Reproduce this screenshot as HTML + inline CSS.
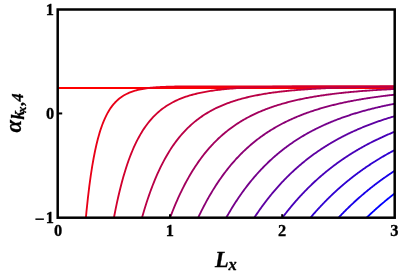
<!DOCTYPE html>
<html><head><meta charset="utf-8"><title>plot</title>
<style>
html,body{margin:0;padding:0;background:#fff;}
body{width:399px;height:274px;overflow:hidden;position:relative;font-family:"Liberation Serif",serif;}
svg{position:absolute;left:0;top:0;}
.t{font-family:"Liberation Serif",serif;font-weight:bold;font-size:16.4px;fill:#000;stroke:#000;stroke-width:0.3px;}
.l{font-family:"Liberation Serif",serif;font-weight:bold;font-style:italic;fill:#000;}
</style></head><body>
<svg width="399" height="274" viewBox="0 0 399 274">
<defs><clipPath id="c"><rect x="57.7" y="9.5" width="337.0" height="208.2"/></clipPath></defs>
<g clip-path="url(#c)" fill="none" stroke-width="1.85" stroke-linejoin="round">
<path d="M57.70 88.0H394.70" stroke="rgb(255,0,0)"/>
<path d="M83.61 244.53 L85.04 226.96 L86.46 211.56 L87.89 198.05 L89.32 186.16 L90.75 175.68 L92.18 166.42 L93.61 158.23 L95.04 150.97 L96.47 144.51 L97.90 138.77 L99.33 133.65 L100.76 129.08 L102.19 124.99 L103.62 121.32 L105.05 118.03 L106.48 115.08 L107.91 112.41 L109.34 110.02 L110.76 107.85 L112.19 105.90 L113.62 104.13 L115.05 102.52 L116.48 101.07 L117.91 99.75 L119.34 98.55 L120.77 97.46 L122.20 96.47 L123.63 95.57 L125.06 94.74 L126.49 93.99 L127.92 93.31 L129.35 92.68 L130.78 92.11 L132.21 91.59 L133.63 91.11 L135.06 90.67 L136.49 90.27 L137.92 89.91 L139.35 89.58 L140.78 89.27 L142.21 88.99 L143.64 88.74 L145.07 88.51 L146.50 88.30 L147.93 88.10 L149.36 87.93 L150.79 87.77 L152.22 87.62 L153.65 87.49 L155.08 87.37 L156.51 87.26 L157.93 87.17 L159.36 87.08 L160.79 87.00 L162.22 86.93 L163.65 86.86 L165.08 86.80 L166.51 86.75 L167.94 86.70 L169.37 86.66 L170.80 86.62 L172.23 86.59 L173.66 86.56 L175.09 86.54 L176.52 86.51 L177.95 86.49 L179.38 86.48 L180.81 86.46 L182.23 86.45 L183.66 86.44 L185.09 86.43 L186.52 86.42 L187.95 86.41 L189.38 86.40 L190.81 86.40 L192.24 86.39 L193.67 86.39 L195.10 86.38 L196.53 86.38 L197.96 86.38 L199.39 86.38 L200.82 86.38 L202.25 86.37 L203.68 86.37 L205.10 86.37 L206.53 86.37 L207.96 86.37 L209.39 86.37 L210.82 86.37 L212.25 86.37 L213.68 86.37 L215.11 86.37 L216.54 86.37 L217.97 86.37 L219.40 86.37 L220.83 86.37 L222.26 86.37 L223.69 86.37 L225.12 86.37 L226.55 86.37 L227.98 86.37 L229.40 86.37 L230.83 86.37 L232.26 86.37 L233.69 86.37 L235.12 86.37 L236.55 86.37 L237.98 86.37 L239.41 86.37 L240.84 86.37 L242.27 86.37 L243.70 86.37 L245.13 86.37 L246.56 86.37 L247.99 86.37 L249.42 86.37 L250.85 86.37 L252.27 86.37 L253.70 86.37 L255.13 86.37 L256.56 86.37 L257.99 86.37 L259.42 86.37 L260.85 86.37 L262.28 86.37 L263.71 86.37 L265.14 86.37 L266.57 86.37 L268.00 86.37 L269.43 86.37 L270.86 86.37 L272.29 86.37 L273.72 86.37 L275.15 86.37 L276.57 86.37 L278.00 86.37 L279.43 86.37 L280.86 86.37 L282.29 86.37 L283.72 86.37 L285.15 86.37 L286.58 86.37 L288.01 86.37 L289.44 86.37 L290.87 86.37 L292.30 86.37 L293.73 86.37 L295.16 86.37 L296.59 86.37 L298.02 86.37 L299.44 86.37 L300.87 86.37 L302.30 86.37 L303.73 86.37 L305.16 86.37 L306.59 86.37 L308.02 86.37 L309.45 86.37 L310.88 86.37 L312.31 86.37 L313.74 86.37 L315.17 86.37 L316.60 86.37 L318.03 86.37 L319.46 86.37 L320.89 86.37 L322.32 86.37 L323.74 86.37 L325.17 86.37 L326.60 86.37 L328.03 86.37 L329.46 86.37 L330.89 86.37 L332.32 86.37 L333.75 86.37 L335.18 86.37 L336.61 86.37 L338.04 86.37 L339.47 86.37 L340.90 86.37 L342.33 86.37 L343.76 86.37 L345.19 86.37 L346.62 86.37 L348.04 86.37 L349.47 86.37 L350.90 86.37 L352.33 86.37 L353.76 86.37 L355.19 86.37 L356.62 86.37 L358.05 86.37 L359.48 86.37 L360.91 86.37 L362.34 86.37 L363.77 86.37 L365.20 86.37 L366.63 86.37 L368.06 86.37 L369.49 86.37 L370.91 86.37 L372.34 86.37 L373.77 86.37 L375.20 86.37 L376.63 86.37 L378.06 86.37 L379.49 86.37 L380.92 86.37 L382.35 86.37 L383.78 86.37 L385.21 86.37 L386.64 86.37 L388.07 86.37 L389.50 86.37 L390.93 86.37 L392.36 86.37 L393.79 86.37 L395.21 86.37 L396.64 86.37" stroke="rgb(232,0,23)"/>
<path d="M111.66 230.54 L112.96 223.07 L114.26 216.04 L115.56 209.41 L116.86 203.17 L118.16 197.28 L119.46 191.72 L120.77 186.48 L122.07 181.53 L123.37 176.85 L124.67 172.43 L125.97 168.25 L127.27 164.30 L128.57 160.56 L129.87 157.03 L131.18 153.68 L132.48 150.50 L133.78 147.49 L135.08 144.64 L136.38 141.94 L137.68 139.37 L138.98 136.94 L140.28 134.63 L141.59 132.44 L142.89 130.35 L144.19 128.37 L145.49 126.49 L146.79 124.70 L148.09 122.99 L149.39 121.37 L150.70 119.83 L152.00 118.36 L153.30 116.96 L154.60 115.62 L155.90 114.35 L157.20 113.14 L158.50 111.98 L159.80 110.88 L161.11 109.83 L162.41 108.83 L163.71 107.87 L165.01 106.95 L166.31 106.08 L167.61 105.24 L168.91 104.44 L170.22 103.68 L171.52 102.95 L172.82 102.25 L174.12 101.59 L175.42 100.95 L176.72 100.34 L178.02 99.75 L179.32 99.19 L180.63 98.66 L181.93 98.14 L183.23 97.65 L184.53 97.18 L185.83 96.73 L187.13 96.30 L188.43 95.88 L189.73 95.48 L191.04 95.10 L192.34 94.74 L193.64 94.39 L194.94 94.05 L196.24 93.73 L197.54 93.42 L198.84 93.12 L200.15 92.84 L201.45 92.57 L202.75 92.30 L204.05 92.05 L205.35 91.81 L206.65 91.58 L207.95 91.36 L209.25 91.14 L210.56 90.94 L211.86 90.74 L213.16 90.55 L214.46 90.37 L215.76 90.20 L217.06 90.03 L218.36 89.87 L219.67 89.72 L220.97 89.57 L222.27 89.43 L223.57 89.29 L224.87 89.16 L226.17 89.04 L227.47 88.92 L228.77 88.80 L230.08 88.69 L231.38 88.58 L232.68 88.48 L233.98 88.38 L235.28 88.29 L236.58 88.20 L237.88 88.12 L239.18 88.03 L240.49 87.95 L241.79 87.88 L243.09 87.81 L244.39 87.74 L245.69 87.67 L246.99 87.61 L248.29 87.55 L249.60 87.49 L250.90 87.43 L252.20 87.38 L253.50 87.33 L254.80 87.28 L256.10 87.23 L257.40 87.19 L258.70 87.15 L260.01 87.10 L261.31 87.07 L262.61 87.03 L263.91 86.99 L265.21 86.96 L266.51 86.93 L267.81 86.90 L269.12 86.87 L270.42 86.84 L271.72 86.81 L273.02 86.79 L274.32 86.77 L275.62 86.74 L276.92 86.72 L278.22 86.70 L279.53 86.68 L280.83 86.66 L282.13 86.65 L283.43 86.63 L284.73 86.61 L286.03 86.60 L287.33 86.58 L288.63 86.57 L289.94 86.56 L291.24 86.55 L292.54 86.54 L293.84 86.52 L295.14 86.51 L296.44 86.51 L297.74 86.50 L299.05 86.49 L300.35 86.48 L301.65 86.47 L302.95 86.47 L304.25 86.46 L305.55 86.45 L306.85 86.45 L308.15 86.44 L309.46 86.44 L310.76 86.43 L312.06 86.43 L313.36 86.42 L314.66 86.42 L315.96 86.41 L317.26 86.41 L318.57 86.41 L319.87 86.40 L321.17 86.40 L322.47 86.40 L323.77 86.40 L325.07 86.39 L326.37 86.39 L327.67 86.39 L328.98 86.39 L330.28 86.39 L331.58 86.39 L332.88 86.38 L334.18 86.38 L335.48 86.38 L336.78 86.38 L338.08 86.38 L339.39 86.38 L340.69 86.38 L341.99 86.38 L343.29 86.38 L344.59 86.38 L345.89 86.37 L347.19 86.37 L348.50 86.37 L349.80 86.37 L351.10 86.37 L352.40 86.37 L353.70 86.37 L355.00 86.37 L356.30 86.37 L357.60 86.37 L358.91 86.37 L360.21 86.37 L361.51 86.37 L362.81 86.37 L364.11 86.37 L365.41 86.37 L366.71 86.37 L368.02 86.37 L369.32 86.37 L370.62 86.37 L371.92 86.37 L373.22 86.37 L374.52 86.37 L375.82 86.37 L377.12 86.37 L378.43 86.37 L379.73 86.37 L381.03 86.37 L382.33 86.37 L383.63 86.37 L384.93 86.37 L386.23 86.37 L387.53 86.37 L388.84 86.37 L390.14 86.37 L391.44 86.37 L392.74 86.37 L394.04 86.37 L395.34 86.37 L396.64 86.37" stroke="rgb(209,0,46)"/>
<path d="M139.71 226.19 L140.88 221.80 L142.05 217.57 L143.23 213.49 L144.40 209.55 L145.57 205.75 L146.75 202.07 L147.92 198.53 L149.09 195.11 L150.27 191.81 L151.44 188.62 L152.61 185.53 L153.78 182.56 L154.96 179.68 L156.13 176.90 L157.30 174.21 L158.48 171.61 L159.65 169.10 L160.82 166.67 L162.00 164.32 L163.17 162.05 L164.34 159.85 L165.52 157.73 L166.69 155.67 L167.86 153.68 L169.04 151.75 L170.21 149.88 L171.38 148.07 L172.56 146.32 L173.73 144.63 L174.90 142.99 L176.08 141.40 L177.25 139.86 L178.42 138.36 L179.60 136.92 L180.77 135.51 L181.94 134.15 L183.12 132.84 L184.29 131.56 L185.46 130.32 L186.64 129.12 L187.81 127.95 L188.98 126.82 L190.16 125.72 L191.33 124.66 L192.50 123.63 L193.67 122.62 L194.85 121.65 L196.02 120.70 L197.19 119.79 L198.37 118.90 L199.54 118.03 L200.71 117.19 L201.89 116.37 L203.06 115.58 L204.23 114.81 L205.41 114.06 L206.58 113.34 L207.75 112.63 L208.93 111.94 L210.10 111.27 L211.27 110.63 L212.45 109.99 L213.62 109.38 L214.79 108.78 L215.97 108.20 L217.14 107.64 L218.31 107.09 L219.49 106.56 L220.66 106.04 L221.83 105.53 L223.01 105.04 L224.18 104.56 L225.35 104.10 L226.53 103.64 L227.70 103.20 L228.87 102.77 L230.04 102.35 L231.22 101.95 L232.39 101.55 L233.56 101.16 L234.74 100.79 L235.91 100.42 L237.08 100.06 L238.26 99.72 L239.43 99.38 L240.60 99.05 L241.78 98.73 L242.95 98.41 L244.12 98.11 L245.30 97.81 L246.47 97.52 L247.64 97.24 L248.82 96.96 L249.99 96.70 L251.16 96.43 L252.34 96.18 L253.51 95.93 L254.68 95.69 L255.86 95.45 L257.03 95.22 L258.20 95.00 L259.38 94.78 L260.55 94.57 L261.72 94.36 L262.90 94.16 L264.07 93.96 L265.24 93.76 L266.42 93.58 L267.59 93.39 L268.76 93.21 L269.93 93.04 L271.11 92.87 L272.28 92.70 L273.45 92.54 L274.63 92.38 L275.80 92.23 L276.97 92.08 L278.15 91.93 L279.32 91.79 L280.49 91.65 L281.67 91.51 L282.84 91.38 L284.01 91.25 L285.19 91.12 L286.36 91.00 L287.53 90.88 L288.71 90.76 L289.88 90.64 L291.05 90.53 L292.23 90.42 L293.40 90.32 L294.57 90.21 L295.75 90.11 L296.92 90.01 L298.09 89.92 L299.27 89.82 L300.44 89.73 L301.61 89.64 L302.79 89.55 L303.96 89.47 L305.13 89.38 L306.31 89.30 L307.48 89.22 L308.65 89.14 L309.82 89.07 L311.00 89.00 L312.17 88.92 L313.34 88.85 L314.52 88.79 L315.69 88.72 L316.86 88.65 L318.04 88.59 L319.21 88.53 L320.38 88.47 L321.56 88.41 L322.73 88.35 L323.90 88.30 L325.08 88.24 L326.25 88.19 L327.42 88.14 L328.60 88.09 L329.77 88.04 L330.94 87.99 L332.12 87.94 L333.29 87.90 L334.46 87.85 L335.64 87.81 L336.81 87.77 L337.98 87.73 L339.16 87.69 L340.33 87.65 L341.50 87.61 L342.68 87.57 L343.85 87.54 L345.02 87.50 L346.19 87.47 L347.37 87.43 L348.54 87.40 L349.71 87.37 L350.89 87.34 L352.06 87.31 L353.23 87.28 L354.41 87.25 L355.58 87.22 L356.75 87.20 L357.93 87.17 L359.10 87.15 L360.27 87.12 L361.45 87.10 L362.62 87.07 L363.79 87.05 L364.97 87.03 L366.14 87.01 L367.31 86.99 L368.49 86.97 L369.66 86.95 L370.83 86.93 L372.01 86.91 L373.18 86.89 L374.35 86.88 L375.53 86.86 L376.70 86.84 L377.87 86.83 L379.05 86.81 L380.22 86.79 L381.39 86.78 L382.57 86.77 L383.74 86.75 L384.91 86.74 L386.08 86.73 L387.26 86.71 L388.43 86.70 L389.60 86.69 L390.78 86.68 L391.95 86.67 L393.12 86.66 L394.30 86.65 L395.47 86.64 L396.64 86.63" stroke="rgb(185,0,70)"/>
<path d="M167.76 224.07 L168.80 221.18 L169.85 218.35 L170.89 215.58 L171.94 212.89 L172.98 210.25 L174.03 207.68 L175.07 205.17 L176.12 202.71 L177.16 200.32 L178.21 197.98 L179.25 195.69 L180.30 193.46 L181.34 191.28 L182.39 189.14 L183.43 187.06 L184.48 185.03 L185.52 183.04 L186.57 181.09 L187.61 179.19 L188.66 177.34 L189.70 175.52 L190.75 173.74 L191.79 172.01 L192.84 170.31 L193.88 168.65 L194.93 167.03 L195.98 165.45 L197.02 163.89 L198.07 162.38 L199.11 160.89 L200.16 159.44 L201.20 158.02 L202.25 156.63 L203.29 155.27 L204.34 153.95 L205.38 152.64 L206.43 151.37 L207.47 150.13 L208.52 148.91 L209.56 147.71 L210.61 146.55 L211.65 145.40 L212.70 144.28 L213.74 143.19 L214.79 142.12 L215.83 141.07 L216.88 140.04 L217.92 139.03 L218.97 138.05 L220.01 137.08 L221.06 136.14 L222.10 135.21 L223.15 134.30 L224.19 133.42 L225.24 132.55 L226.28 131.69 L227.33 130.86 L228.37 130.04 L229.42 129.24 L230.47 128.45 L231.51 127.68 L232.56 126.93 L233.60 126.19 L234.65 125.47 L235.69 124.76 L236.74 124.06 L237.78 123.38 L238.83 122.71 L239.87 122.06 L240.92 121.41 L241.96 120.78 L243.01 120.17 L244.05 119.56 L245.10 118.97 L246.14 118.38 L247.19 117.81 L248.23 117.25 L249.28 116.71 L250.32 116.17 L251.37 115.64 L252.41 115.12 L253.46 114.61 L254.50 114.11 L255.55 113.62 L256.59 113.14 L257.64 112.67 L258.68 112.21 L259.73 111.76 L260.77 111.31 L261.82 110.88 L262.86 110.45 L263.91 110.03 L264.96 109.62 L266.00 109.21 L267.05 108.81 L268.09 108.42 L269.14 108.04 L270.18 107.67 L271.23 107.30 L272.27 106.93 L273.32 106.58 L274.36 106.23 L275.41 105.89 L276.45 105.55 L277.50 105.22 L278.54 104.90 L279.59 104.58 L280.63 104.26 L281.68 103.96 L282.72 103.65 L283.77 103.36 L284.81 103.07 L285.86 102.78 L286.90 102.50 L287.95 102.22 L288.99 101.95 L290.04 101.69 L291.08 101.43 L292.13 101.17 L293.17 100.92 L294.22 100.67 L295.26 100.42 L296.31 100.18 L297.35 99.95 L298.40 99.72 L299.44 99.49 L300.49 99.27 L301.54 99.05 L302.58 98.83 L303.63 98.62 L304.67 98.41 L305.72 98.21 L306.76 98.01 L307.81 97.81 L308.85 97.62 L309.90 97.42 L310.94 97.24 L311.99 97.05 L313.03 96.87 L314.08 96.69 L315.12 96.52 L316.17 96.34 L317.21 96.18 L318.26 96.01 L319.30 95.84 L320.35 95.68 L321.39 95.53 L322.44 95.37 L323.48 95.22 L324.53 95.07 L325.57 94.92 L326.62 94.77 L327.66 94.63 L328.71 94.49 L329.75 94.35 L330.80 94.21 L331.84 94.08 L332.89 93.95 L333.93 93.82 L334.98 93.69 L336.03 93.57 L337.07 93.44 L338.12 93.32 L339.16 93.20 L340.21 93.09 L341.25 92.97 L342.30 92.86 L343.34 92.75 L344.39 92.64 L345.43 92.53 L346.48 92.42 L347.52 92.32 L348.57 92.22 L349.61 92.12 L350.66 92.02 L351.70 91.92 L352.75 91.82 L353.79 91.73 L354.84 91.64 L355.88 91.55 L356.93 91.46 L357.97 91.37 L359.02 91.28 L360.06 91.20 L361.11 91.11 L362.15 91.03 L363.20 90.95 L364.24 90.87 L365.29 90.79 L366.33 90.71 L367.38 90.63 L368.42 90.56 L369.47 90.49 L370.52 90.41 L371.56 90.34 L372.61 90.27 L373.65 90.20 L374.70 90.13 L375.74 90.07 L376.79 90.00 L377.83 89.94 L378.88 89.87 L379.92 89.81 L380.97 89.75 L382.01 89.69 L383.06 89.63 L384.10 89.57 L385.15 89.51 L386.19 89.46 L387.24 89.40 L388.28 89.35 L389.33 89.29 L390.37 89.24 L391.42 89.19 L392.46 89.14 L393.51 89.08 L394.55 89.04 L395.60 88.99 L396.64 88.94" stroke="rgb(162,0,93)"/>
<path d="M195.81 222.82 L196.72 220.80 L197.64 218.81 L198.56 216.86 L199.47 214.94 L200.39 213.05 L201.31 211.19 L202.23 209.36 L203.14 207.56 L204.06 205.80 L204.98 204.06 L205.89 202.35 L206.81 200.67 L207.73 199.01 L208.64 197.39 L209.56 195.79 L210.48 194.21 L211.40 192.66 L212.31 191.14 L213.23 189.64 L214.15 188.16 L215.06 186.71 L215.98 185.28 L216.90 183.88 L217.82 182.49 L218.73 181.13 L219.65 179.80 L220.57 178.48 L221.48 177.18 L222.40 175.90 L223.32 174.65 L224.24 173.41 L225.15 172.19 L226.07 171.00 L226.99 169.82 L227.90 168.66 L228.82 167.52 L229.74 166.39 L230.65 165.28 L231.57 164.19 L232.49 163.12 L233.41 162.06 L234.32 161.02 L235.24 160.00 L236.16 158.99 L237.07 158.00 L237.99 157.02 L238.91 156.06 L239.83 155.11 L240.74 154.18 L241.66 153.26 L242.58 152.35 L243.49 151.46 L244.41 150.58 L245.33 149.71 L246.24 148.86 L247.16 148.02 L248.08 147.20 L249.00 146.38 L249.91 145.58 L250.83 144.79 L251.75 144.01 L252.66 143.24 L253.58 142.49 L254.50 141.74 L255.42 141.01 L256.33 140.28 L257.25 139.57 L258.17 138.87 L259.08 138.18 L260.00 137.50 L260.92 136.83 L261.83 136.16 L262.75 135.51 L263.67 134.87 L264.59 134.23 L265.50 133.61 L266.42 133.00 L267.34 132.39 L268.25 131.79 L269.17 131.20 L270.09 130.62 L271.01 130.05 L271.92 129.48 L272.84 128.93 L273.76 128.38 L274.67 127.84 L275.59 127.31 L276.51 126.78 L277.43 126.26 L278.34 125.75 L279.26 125.25 L280.18 124.75 L281.09 124.26 L282.01 123.78 L282.93 123.30 L283.84 122.83 L284.76 122.37 L285.68 121.91 L286.60 121.46 L287.51 121.02 L288.43 120.58 L289.35 120.15 L290.26 119.72 L291.18 119.30 L292.10 118.89 L293.02 118.48 L293.93 118.08 L294.85 117.68 L295.77 117.29 L296.68 116.90 L297.60 116.52 L298.52 116.14 L299.43 115.77 L300.35 115.40 L301.27 115.04 L302.19 114.68 L303.10 114.33 L304.02 113.98 L304.94 113.64 L305.85 113.30 L306.77 112.97 L307.69 112.64 L308.61 112.32 L309.52 112.00 L310.44 111.68 L311.36 111.37 L312.27 111.06 L313.19 110.76 L314.11 110.46 L315.02 110.16 L315.94 109.87 L316.86 109.58 L317.78 109.30 L318.69 109.01 L319.61 108.74 L320.53 108.46 L321.44 108.19 L322.36 107.93 L323.28 107.66 L324.20 107.40 L325.11 107.15 L326.03 106.90 L326.95 106.65 L327.86 106.40 L328.78 106.16 L329.70 105.92 L330.62 105.68 L331.53 105.44 L332.45 105.21 L333.37 104.98 L334.28 104.76 L335.20 104.54 L336.12 104.32 L337.03 104.10 L337.95 103.89 L338.87 103.67 L339.79 103.46 L340.70 103.26 L341.62 103.06 L342.54 102.85 L343.45 102.66 L344.37 102.46 L345.29 102.27 L346.21 102.07 L347.12 101.89 L348.04 101.70 L348.96 101.51 L349.87 101.33 L350.79 101.15 L351.71 100.98 L352.62 100.80 L353.54 100.63 L354.46 100.46 L355.38 100.29 L356.29 100.12 L357.21 99.96 L358.13 99.79 L359.04 99.63 L359.96 99.47 L360.88 99.32 L361.80 99.16 L362.71 99.01 L363.63 98.86 L364.55 98.71 L365.46 98.56 L366.38 98.41 L367.30 98.27 L368.21 98.13 L369.13 97.99 L370.05 97.85 L370.97 97.71 L371.88 97.58 L372.80 97.44 L373.72 97.31 L374.63 97.18 L375.55 97.05 L376.47 96.92 L377.39 96.80 L378.30 96.67 L379.22 96.55 L380.14 96.43 L381.05 96.31 L381.97 96.19 L382.89 96.07 L383.81 95.95 L384.72 95.84 L385.64 95.73 L386.56 95.61 L387.47 95.50 L388.39 95.39 L389.31 95.29 L390.22 95.18 L391.14 95.07 L392.06 94.97 L392.98 94.87 L393.89 94.77 L394.81 94.66 L395.73 94.57 L396.64 94.47" stroke="rgb(139,0,116)"/>
<path d="M223.86 221.99 L224.64 220.55 L225.43 219.12 L226.22 217.72 L227.01 216.33 L227.80 214.95 L228.59 213.59 L229.38 212.25 L230.17 210.93 L230.96 209.62 L231.75 208.32 L232.53 207.04 L233.32 205.78 L234.11 204.53 L234.90 203.29 L235.69 202.07 L236.48 200.87 L237.27 199.68 L238.06 198.50 L238.85 197.34 L239.64 196.19 L240.42 195.05 L241.21 193.93 L242.00 192.82 L242.79 191.72 L243.58 190.64 L244.37 189.57 L245.16 188.51 L245.95 187.46 L246.74 186.42 L247.53 185.40 L248.31 184.39 L249.10 183.39 L249.89 182.40 L250.68 181.43 L251.47 180.46 L252.26 179.51 L253.05 178.56 L253.84 177.63 L254.63 176.71 L255.42 175.80 L256.20 174.89 L256.99 174.00 L257.78 173.12 L258.57 172.25 L259.36 171.39 L260.15 170.54 L260.94 169.70 L261.73 168.86 L262.52 168.04 L263.31 167.23 L264.09 166.42 L264.88 165.63 L265.67 164.84 L266.46 164.06 L267.25 163.29 L268.04 162.53 L268.83 161.78 L269.62 161.03 L270.41 160.30 L271.20 159.57 L271.98 158.85 L272.77 158.14 L273.56 157.43 L274.35 156.74 L275.14 156.05 L275.93 155.37 L276.72 154.69 L277.51 154.03 L278.30 153.37 L279.09 152.72 L279.87 152.07 L280.66 151.43 L281.45 150.80 L282.24 150.18 L283.03 149.56 L283.82 148.95 L284.61 148.35 L285.40 147.75 L286.19 147.16 L286.97 146.57 L287.76 145.99 L288.55 145.42 L289.34 144.85 L290.13 144.29 L290.92 143.74 L291.71 143.19 L292.50 142.65 L293.29 142.11 L294.08 141.58 L294.86 141.06 L295.65 140.54 L296.44 140.02 L297.23 139.51 L298.02 139.01 L298.81 138.51 L299.60 138.02 L300.39 137.53 L301.18 137.05 L301.97 136.57 L302.75 136.10 L303.54 135.63 L304.33 135.17 L305.12 134.71 L305.91 134.25 L306.70 133.80 L307.49 133.36 L308.28 132.92 L309.07 132.49 L309.86 132.06 L310.64 131.63 L311.43 131.21 L312.22 130.79 L313.01 130.38 L313.80 129.97 L314.59 129.56 L315.38 129.16 L316.17 128.77 L316.96 128.37 L317.75 127.99 L318.53 127.60 L319.32 127.22 L320.11 126.84 L320.90 126.47 L321.69 126.10 L322.48 125.74 L323.27 125.38 L324.06 125.02 L324.85 124.66 L325.64 124.31 L326.42 123.96 L327.21 123.62 L328.00 123.28 L328.79 122.94 L329.58 122.61 L330.37 122.28 L331.16 121.95 L331.95 121.63 L332.74 121.31 L333.53 120.99 L334.31 120.68 L335.10 120.36 L335.89 120.06 L336.68 119.75 L337.47 119.45 L338.26 119.15 L339.05 118.85 L339.84 118.56 L340.63 118.27 L341.41 117.98 L342.20 117.70 L342.99 117.42 L343.78 117.14 L344.57 116.86 L345.36 116.59 L346.15 116.32 L346.94 116.05 L347.73 115.78 L348.52 115.52 L349.30 115.26 L350.09 115.00 L350.88 114.74 L351.67 114.49 L352.46 114.24 L353.25 113.99 L354.04 113.74 L354.83 113.50 L355.62 113.26 L356.41 113.02 L357.19 112.78 L357.98 112.55 L358.77 112.32 L359.56 112.09 L360.35 111.86 L361.14 111.63 L361.93 111.41 L362.72 111.19 L363.51 110.97 L364.30 110.75 L365.08 110.53 L365.87 110.32 L366.66 110.11 L367.45 109.90 L368.24 109.69 L369.03 109.49 L369.82 109.28 L370.61 109.08 L371.40 108.88 L372.19 108.68 L372.97 108.49 L373.76 108.29 L374.55 108.10 L375.34 107.91 L376.13 107.72 L376.92 107.54 L377.71 107.35 L378.50 107.17 L379.29 106.98 L380.08 106.80 L380.86 106.63 L381.65 106.45 L382.44 106.27 L383.23 106.10 L384.02 105.93 L384.81 105.76 L385.60 105.59 L386.39 105.42 L387.18 105.26 L387.97 105.09 L388.75 104.93 L389.54 104.77 L390.33 104.61 L391.12 104.45 L391.91 104.29 L392.70 104.14 L393.49 103.98 L394.28 103.83 L395.07 103.68 L395.86 103.53 L396.64 103.38" stroke="rgb(116,0,139)"/>
<path d="M251.91 221.40 L252.57 220.37 L253.23 219.35 L253.89 218.33 L254.55 217.33 L255.21 216.33 L255.87 215.34 L256.53 214.36 L257.19 213.39 L257.85 212.43 L258.52 211.47 L259.18 210.53 L259.84 209.59 L260.50 208.66 L261.16 207.73 L261.82 206.82 L262.48 205.91 L263.14 205.01 L263.80 204.12 L264.46 203.24 L265.12 202.36 L265.78 201.49 L266.45 200.63 L267.11 199.77 L267.77 198.93 L268.43 198.09 L269.09 197.25 L269.75 196.43 L270.41 195.61 L271.07 194.79 L271.73 193.99 L272.39 193.19 L273.05 192.40 L273.72 191.61 L274.38 190.83 L275.04 190.06 L275.70 189.30 L276.36 188.54 L277.02 187.78 L277.68 187.04 L278.34 186.30 L279.00 185.56 L279.66 184.83 L280.32 184.11 L280.99 183.39 L281.65 182.68 L282.31 181.98 L282.97 181.28 L283.63 180.59 L284.29 179.90 L284.95 179.22 L285.61 178.54 L286.27 177.87 L286.93 177.20 L287.59 176.54 L288.26 175.89 L288.92 175.24 L289.58 174.60 L290.24 173.96 L290.90 173.33 L291.56 172.70 L292.22 172.07 L292.88 171.46 L293.54 170.84 L294.20 170.24 L294.86 169.63 L295.53 169.03 L296.19 168.44 L296.85 167.85 L297.51 167.27 L298.17 166.69 L298.83 166.11 L299.49 165.55 L300.15 164.98 L300.81 164.42 L301.47 163.86 L302.13 163.31 L302.80 162.76 L303.46 162.22 L304.12 161.68 L304.78 161.15 L305.44 160.62 L306.10 160.09 L306.76 159.57 L307.42 159.05 L308.08 158.54 L308.74 158.03 L309.40 157.52 L310.07 157.02 L310.73 156.52 L311.39 156.03 L312.05 155.54 L312.71 155.05 L313.37 154.57 L314.03 154.09 L314.69 153.62 L315.35 153.15 L316.01 152.68 L316.67 152.22 L317.34 151.76 L318.00 151.30 L318.66 150.85 L319.32 150.40 L319.98 149.96 L320.64 149.51 L321.30 149.07 L321.96 148.64 L322.62 148.21 L323.28 147.78 L323.94 147.35 L324.61 146.93 L325.27 146.51 L325.93 146.10 L326.59 145.68 L327.25 145.27 L327.91 144.87 L328.57 144.47 L329.23 144.07 L329.89 143.67 L330.55 143.28 L331.21 142.88 L331.88 142.50 L332.54 142.11 L333.20 141.73 L333.86 141.35 L334.52 140.97 L335.18 140.60 L335.84 140.23 L336.50 139.86 L337.16 139.50 L337.82 139.14 L338.48 138.78 L339.15 138.42 L339.81 138.07 L340.47 137.72 L341.13 137.37 L341.79 137.02 L342.45 136.68 L343.11 136.34 L343.77 136.00 L344.43 135.66 L345.09 135.33 L345.75 135.00 L346.42 134.67 L347.08 134.35 L347.74 134.02 L348.40 133.70 L349.06 133.38 L349.72 133.07 L350.38 132.75 L351.04 132.44 L351.70 132.13 L352.36 131.82 L353.02 131.52 L353.69 131.22 L354.35 130.92 L355.01 130.62 L355.67 130.32 L356.33 130.03 L356.99 129.74 L357.65 129.45 L358.31 129.16 L358.97 128.88 L359.63 128.59 L360.29 128.31 L360.96 128.03 L361.62 127.76 L362.28 127.48 L362.94 127.21 L363.60 126.94 L364.26 126.67 L364.92 126.40 L365.58 126.14 L366.24 125.88 L366.90 125.61 L367.56 125.36 L368.23 125.10 L368.89 124.84 L369.55 124.59 L370.21 124.34 L370.87 124.09 L371.53 123.84 L372.19 123.59 L372.85 123.35 L373.51 123.11 L374.17 122.86 L374.83 122.63 L375.50 122.39 L376.16 122.15 L376.82 121.92 L377.48 121.68 L378.14 121.45 L378.80 121.22 L379.46 121.00 L380.12 120.77 L380.78 120.55 L381.44 120.32 L382.10 120.10 L382.77 119.88 L383.43 119.66 L384.09 119.45 L384.75 119.23 L385.41 119.02 L386.07 118.81 L386.73 118.60 L387.39 118.39 L388.05 118.18 L388.71 117.97 L389.37 117.77 L390.03 117.57 L390.70 117.36 L391.36 117.16 L392.02 116.96 L392.68 116.77 L393.34 116.57 L394.00 116.38 L394.66 116.18 L395.32 115.99 L395.98 115.80 L396.64 115.61" stroke="rgb(93,0,162)"/>
<path d="M279.96 220.96 L280.49 220.24 L281.02 219.52 L281.55 218.80 L282.09 218.09 L282.62 217.38 L283.15 216.67 L283.69 215.97 L284.22 215.28 L284.75 214.58 L285.28 213.90 L285.82 213.21 L286.35 212.53 L286.88 211.86 L287.42 211.19 L287.95 210.52 L288.48 209.86 L289.01 209.20 L289.55 208.54 L290.08 207.89 L290.61 207.24 L291.15 206.60 L291.68 205.96 L292.21 205.33 L292.74 204.69 L293.28 204.07 L293.81 203.44 L294.34 202.82 L294.88 202.20 L295.41 201.59 L295.94 200.98 L296.47 200.38 L297.01 199.77 L297.54 199.18 L298.07 198.58 L298.60 197.99 L299.14 197.40 L299.67 196.82 L300.20 196.24 L300.74 195.66 L301.27 195.08 L301.80 194.51 L302.33 193.95 L302.87 193.38 L303.40 192.82 L303.93 192.27 L304.47 191.71 L305.00 191.16 L305.53 190.61 L306.06 190.07 L306.60 189.53 L307.13 188.99 L307.66 188.46 L308.20 187.92 L308.73 187.40 L309.26 186.87 L309.79 186.35 L310.33 185.83 L310.86 185.31 L311.39 184.80 L311.93 184.29 L312.46 183.78 L312.99 183.28 L313.52 182.78 L314.06 182.28 L314.59 181.78 L315.12 181.29 L315.66 180.80 L316.19 180.31 L316.72 179.83 L317.25 179.35 L317.79 178.87 L318.32 178.40 L318.85 177.92 L319.38 177.45 L319.92 176.98 L320.45 176.52 L320.98 176.06 L321.52 175.60 L322.05 175.14 L322.58 174.69 L323.11 174.24 L323.65 173.79 L324.18 173.34 L324.71 172.90 L325.25 172.46 L325.78 172.02 L326.31 171.58 L326.84 171.15 L327.38 170.72 L327.91 170.29 L328.44 169.86 L328.98 169.44 L329.51 169.02 L330.04 168.60 L330.57 168.18 L331.11 167.77 L331.64 167.36 L332.17 166.95 L332.71 166.54 L333.24 166.13 L333.77 165.73 L334.30 165.33 L334.84 164.93 L335.37 164.54 L335.90 164.14 L336.44 163.75 L336.97 163.36 L337.50 162.98 L338.03 162.59 L338.57 162.21 L339.10 161.83 L339.63 161.45 L340.16 161.07 L340.70 160.70 L341.23 160.33 L341.76 159.96 L342.30 159.59 L342.83 159.22 L343.36 158.86 L343.89 158.50 L344.43 158.14 L344.96 157.78 L345.49 157.43 L346.03 157.07 L346.56 156.72 L347.09 156.37 L347.62 156.02 L348.16 155.68 L348.69 155.33 L349.22 154.99 L349.76 154.65 L350.29 154.31 L350.82 153.98 L351.35 153.64 L351.89 153.31 L352.42 152.98 L352.95 152.65 L353.49 152.32 L354.02 152.00 L354.55 151.67 L355.08 151.35 L355.62 151.03 L356.15 150.71 L356.68 150.40 L357.22 150.08 L357.75 149.77 L358.28 149.46 L358.81 149.15 L359.35 148.84 L359.88 148.54 L360.41 148.23 L360.94 147.93 L361.48 147.63 L362.01 147.33 L362.54 147.03 L363.08 146.73 L363.61 146.44 L364.14 146.15 L364.67 145.85 L365.21 145.56 L365.74 145.28 L366.27 144.99 L366.81 144.70 L367.34 144.42 L367.87 144.14 L368.40 143.86 L368.94 143.58 L369.47 143.30 L370.00 143.02 L370.54 142.75 L371.07 142.48 L371.60 142.20 L372.13 141.93 L372.67 141.67 L373.20 141.40 L373.73 141.13 L374.27 140.87 L374.80 140.61 L375.33 140.34 L375.86 140.08 L376.40 139.82 L376.93 139.57 L377.46 139.31 L378.00 139.06 L378.53 138.80 L379.06 138.55 L379.59 138.30 L380.13 138.05 L380.66 137.80 L381.19 137.56 L381.72 137.31 L382.26 137.07 L382.79 136.82 L383.32 136.58 L383.86 136.34 L384.39 136.10 L384.92 135.87 L385.45 135.63 L385.99 135.39 L386.52 135.16 L387.05 134.93 L387.59 134.70 L388.12 134.47 L388.65 134.24 L389.18 134.01 L389.72 133.78 L390.25 133.56 L390.78 133.33 L391.32 133.11 L391.85 132.89 L392.38 132.67 L392.91 132.45 L393.45 132.23 L393.98 132.01 L394.51 131.80 L395.05 131.58 L395.58 131.37 L396.11 131.16 L396.64 130.94" stroke="rgb(70,0,185)"/>
<path d="M308.01 220.62 L308.41 220.13 L308.82 219.65 L309.22 219.16 L309.62 218.68 L310.03 218.20 L310.43 217.72 L310.84 217.24 L311.24 216.76 L311.65 216.29 L312.05 215.82 L312.46 215.35 L312.86 214.88 L313.27 214.41 L313.67 213.95 L314.08 213.49 L314.48 213.03 L314.89 212.57 L315.29 212.11 L315.70 211.66 L316.10 211.21 L316.51 210.75 L316.91 210.31 L317.32 209.86 L317.72 209.41 L318.12 208.97 L318.53 208.53 L318.93 208.09 L319.34 207.65 L319.74 207.21 L320.15 206.78 L320.55 206.34 L320.96 205.91 L321.36 205.48 L321.77 205.06 L322.17 204.63 L322.58 204.21 L322.98 203.78 L323.39 203.36 L323.79 202.94 L324.20 202.53 L324.60 202.11 L325.01 201.70 L325.41 201.29 L325.81 200.87 L326.22 200.47 L326.62 200.06 L327.03 199.65 L327.43 199.25 L327.84 198.85 L328.24 198.45 L328.65 198.05 L329.05 197.65 L329.46 197.25 L329.86 196.86 L330.27 196.47 L330.67 196.07 L331.08 195.68 L331.48 195.30 L331.89 194.91 L332.29 194.53 L332.70 194.14 L333.10 193.76 L333.50 193.38 L333.91 193.00 L334.31 192.62 L334.72 192.25 L335.12 191.87 L335.53 191.50 L335.93 191.13 L336.34 190.76 L336.74 190.39 L337.15 190.02 L337.55 189.66 L337.96 189.29 L338.36 188.93 L338.77 188.57 L339.17 188.21 L339.58 187.85 L339.98 187.50 L340.39 187.14 L340.79 186.79 L341.19 186.43 L341.60 186.08 L342.00 185.73 L342.41 185.38 L342.81 185.04 L343.22 184.69 L343.62 184.35 L344.03 184.00 L344.43 183.66 L344.84 183.32 L345.24 182.98 L345.65 182.65 L346.05 182.31 L346.46 181.97 L346.86 181.64 L347.27 181.31 L347.67 180.98 L348.08 180.65 L348.48 180.32 L348.88 179.99 L349.29 179.67 L349.69 179.34 L350.10 179.02 L350.50 178.70 L350.91 178.38 L351.31 178.06 L351.72 177.74 L352.12 177.42 L352.53 177.11 L352.93 176.79 L353.34 176.48 L353.74 176.17 L354.15 175.85 L354.55 175.55 L354.96 175.24 L355.36 174.93 L355.77 174.62 L356.17 174.32 L356.57 174.01 L356.98 173.71 L357.38 173.41 L357.79 173.11 L358.19 172.81 L358.60 172.51 L359.00 172.22 L359.41 171.92 L359.81 171.63 L360.22 171.33 L360.62 171.04 L361.03 170.75 L361.43 170.46 L361.84 170.17 L362.24 169.88 L362.65 169.60 L363.05 169.31 L363.46 169.03 L363.86 168.75 L364.26 168.46 L364.67 168.18 L365.07 167.90 L365.48 167.62 L365.88 167.35 L366.29 167.07 L366.69 166.79 L367.10 166.52 L367.50 166.25 L367.91 165.97 L368.31 165.70 L368.72 165.43 L369.12 165.16 L369.53 164.89 L369.93 164.63 L370.34 164.36 L370.74 164.09 L371.15 163.83 L371.55 163.57 L371.95 163.30 L372.36 163.04 L372.76 162.78 L373.17 162.52 L373.57 162.27 L373.98 162.01 L374.38 161.75 L374.79 161.50 L375.19 161.24 L375.60 160.99 L376.00 160.74 L376.41 160.48 L376.81 160.23 L377.22 159.98 L377.62 159.74 L378.03 159.49 L378.43 159.24 L378.84 159.00 L379.24 158.75 L379.64 158.51 L380.05 158.26 L380.45 158.02 L380.86 157.78 L381.26 157.54 L381.67 157.30 L382.07 157.06 L382.48 156.82 L382.88 156.59 L383.29 156.35 L383.69 156.12 L384.10 155.88 L384.50 155.65 L384.91 155.42 L385.31 155.19 L385.72 154.95 L386.12 154.73 L386.53 154.50 L386.93 154.27 L387.33 154.04 L387.74 153.81 L388.14 153.59 L388.55 153.36 L388.95 153.14 L389.36 152.92 L389.76 152.70 L390.17 152.47 L390.57 152.25 L390.98 152.03 L391.38 151.82 L391.79 151.60 L392.19 151.38 L392.60 151.16 L393.00 150.95 L393.41 150.73 L393.81 150.52 L394.22 150.31 L394.62 150.09 L395.03 149.88 L395.43 149.67 L395.83 149.46 L396.24 149.25 L396.64 149.04" stroke="rgb(46,0,209)"/>
<path d="M336.06 220.35 L336.33 220.05 L336.61 219.75 L336.89 219.45 L337.16 219.15 L337.44 218.86 L337.72 218.56 L337.99 218.26 L338.27 217.97 L338.55 217.67 L338.82 217.38 L339.10 217.09 L339.38 216.79 L339.65 216.50 L339.93 216.21 L340.21 215.92 L340.48 215.63 L340.76 215.34 L341.04 215.05 L341.31 214.77 L341.59 214.48 L341.87 214.19 L342.14 213.91 L342.42 213.62 L342.70 213.34 L342.97 213.06 L343.25 212.78 L343.53 212.49 L343.80 212.21 L344.08 211.93 L344.36 211.65 L344.63 211.37 L344.91 211.10 L345.19 210.82 L345.46 210.54 L345.74 210.27 L346.02 209.99 L346.29 209.72 L346.57 209.44 L346.85 209.17 L347.12 208.90 L347.40 208.63 L347.68 208.35 L347.95 208.08 L348.23 207.81 L348.51 207.54 L348.78 207.28 L349.06 207.01 L349.34 206.74 L349.61 206.48 L349.89 206.21 L350.17 205.94 L350.44 205.68 L350.72 205.42 L351.00 205.15 L351.27 204.89 L351.55 204.63 L351.83 204.37 L352.10 204.11 L352.38 203.85 L352.66 203.59 L352.93 203.33 L353.21 203.07 L353.49 202.81 L353.76 202.56 L354.04 202.30 L354.32 202.05 L354.59 201.79 L354.87 201.54 L355.15 201.28 L355.42 201.03 L355.70 200.78 L355.98 200.53 L356.25 200.28 L356.53 200.03 L356.81 199.78 L357.08 199.53 L357.36 199.28 L357.64 199.03 L357.91 198.78 L358.19 198.54 L358.47 198.29 L358.74 198.05 L359.02 197.80 L359.30 197.56 L359.57 197.31 L359.85 197.07 L360.13 196.83 L360.40 196.59 L360.68 196.35 L360.96 196.10 L361.23 195.86 L361.51 195.63 L361.79 195.39 L362.06 195.15 L362.34 194.91 L362.62 194.67 L362.89 194.44 L363.17 194.20 L363.45 193.97 L363.72 193.73 L364.00 193.50 L364.28 193.26 L364.55 193.03 L364.83 192.80 L365.11 192.57 L365.38 192.34 L365.66 192.11 L365.94 191.87 L366.21 191.65 L366.49 191.42 L366.76 191.19 L367.04 190.96 L367.32 190.73 L367.59 190.51 L367.87 190.28 L368.15 190.05 L368.42 189.83 L368.70 189.60 L368.98 189.38 L369.25 189.16 L369.53 188.93 L369.81 188.71 L370.08 188.49 L370.36 188.27 L370.64 188.05 L370.91 187.83 L371.19 187.61 L371.47 187.39 L371.74 187.17 L372.02 186.95 L372.30 186.74 L372.57 186.52 L372.85 186.30 L373.13 186.09 L373.40 185.87 L373.68 185.66 L373.96 185.44 L374.23 185.23 L374.51 185.01 L374.79 184.80 L375.06 184.59 L375.34 184.38 L375.62 184.17 L375.89 183.96 L376.17 183.75 L376.45 183.54 L376.72 183.33 L377.00 183.12 L377.28 182.91 L377.55 182.70 L377.83 182.49 L378.11 182.29 L378.38 182.08 L378.66 181.88 L378.94 181.67 L379.21 181.47 L379.49 181.26 L379.77 181.06 L380.04 180.86 L380.32 180.65 L380.60 180.45 L380.87 180.25 L381.15 180.05 L381.43 179.85 L381.70 179.65 L381.98 179.45 L382.26 179.25 L382.53 179.05 L382.81 178.85 L383.09 178.65 L383.36 178.46 L383.64 178.26 L383.92 178.06 L384.19 177.87 L384.47 177.67 L384.75 177.48 L385.02 177.28 L385.30 177.09 L385.58 176.89 L385.85 176.70 L386.13 176.51 L386.41 176.32 L386.68 176.12 L386.96 175.93 L387.24 175.74 L387.51 175.55 L387.79 175.36 L388.07 175.17 L388.34 174.98 L388.62 174.79 L388.90 174.61 L389.17 174.42 L389.45 174.23 L389.73 174.04 L390.00 173.86 L390.28 173.67 L390.56 173.49 L390.83 173.30 L391.11 173.12 L391.39 172.93 L391.66 172.75 L391.94 172.57 L392.22 172.38 L392.49 172.20 L392.77 172.02 L393.05 171.84 L393.32 171.66 L393.60 171.48 L393.88 171.30 L394.15 171.12 L394.43 170.94 L394.71 170.76 L394.98 170.58 L395.26 170.40 L395.54 170.22 L395.81 170.05 L396.09 169.87 L396.37 169.69 L396.64 169.52" stroke="rgb(23,0,232)"/>
<path d="M364.11 220.13 L364.25 219.98 L364.40 219.84 L364.55 219.69 L364.70 219.55 L364.85 219.40 L365.00 219.25 L365.15 219.11 L365.29 218.96 L365.44 218.82 L365.59 218.67 L365.74 218.53 L365.89 218.38 L366.04 218.24 L366.19 218.09 L366.33 217.95 L366.48 217.81 L366.63 217.66 L366.78 217.52 L366.93 217.38 L367.08 217.23 L367.23 217.09 L367.37 216.95 L367.52 216.80 L367.67 216.66 L367.82 216.52 L367.97 216.38 L368.12 216.23 L368.27 216.09 L368.41 215.95 L368.56 215.81 L368.71 215.67 L368.86 215.53 L369.01 215.39 L369.16 215.25 L369.31 215.10 L369.45 214.96 L369.60 214.82 L369.75 214.68 L369.90 214.54 L370.05 214.40 L370.20 214.26 L370.35 214.12 L370.49 213.99 L370.64 213.85 L370.79 213.71 L370.94 213.57 L371.09 213.43 L371.24 213.29 L371.39 213.15 L371.53 213.02 L371.68 212.88 L371.83 212.74 L371.98 212.60 L372.13 212.47 L372.28 212.33 L372.43 212.19 L372.57 212.05 L372.72 211.92 L372.87 211.78 L373.02 211.64 L373.17 211.51 L373.32 211.37 L373.47 211.24 L373.61 211.10 L373.76 210.97 L373.91 210.83 L374.06 210.70 L374.21 210.56 L374.36 210.43 L374.51 210.29 L374.65 210.16 L374.80 210.02 L374.95 209.89 L375.10 209.75 L375.25 209.62 L375.40 209.49 L375.55 209.35 L375.69 209.22 L375.84 209.09 L375.99 208.95 L376.14 208.82 L376.29 208.69 L376.44 208.56 L376.59 208.42 L376.73 208.29 L376.88 208.16 L377.03 208.03 L377.18 207.89 L377.33 207.76 L377.48 207.63 L377.63 207.50 L377.77 207.37 L377.92 207.24 L378.07 207.11 L378.22 206.98 L378.37 206.85 L378.52 206.72 L378.67 206.59 L378.81 206.46 L378.96 206.33 L379.11 206.20 L379.26 206.07 L379.41 205.94 L379.56 205.81 L379.71 205.68 L379.85 205.55 L380.00 205.42 L380.15 205.29 L380.30 205.17 L380.45 205.04 L380.60 204.91 L380.75 204.78 L380.90 204.65 L381.04 204.53 L381.19 204.40 L381.34 204.27 L381.49 204.14 L381.64 204.02 L381.79 203.89 L381.94 203.76 L382.08 203.64 L382.23 203.51 L382.38 203.38 L382.53 203.26 L382.68 203.13 L382.83 203.01 L382.98 202.88 L383.12 202.76 L383.27 202.63 L383.42 202.51 L383.57 202.38 L383.72 202.26 L383.87 202.13 L384.02 202.01 L384.16 201.88 L384.31 201.76 L384.46 201.63 L384.61 201.51 L384.76 201.39 L384.91 201.26 L385.06 201.14 L385.20 201.02 L385.35 200.89 L385.50 200.77 L385.65 200.65 L385.80 200.52 L385.95 200.40 L386.10 200.28 L386.24 200.16 L386.39 200.03 L386.54 199.91 L386.69 199.79 L386.84 199.67 L386.99 199.55 L387.14 199.43 L387.28 199.30 L387.43 199.18 L387.58 199.06 L387.73 198.94 L387.88 198.82 L388.03 198.70 L388.18 198.58 L388.32 198.46 L388.47 198.34 L388.62 198.22 L388.77 198.10 L388.92 197.98 L389.07 197.86 L389.22 197.74 L389.36 197.62 L389.51 197.50 L389.66 197.38 L389.81 197.27 L389.96 197.15 L390.11 197.03 L390.26 196.91 L390.40 196.79 L390.55 196.67 L390.70 196.56 L390.85 196.44 L391.00 196.32 L391.15 196.20 L391.30 196.09 L391.44 195.97 L391.59 195.85 L391.74 195.73 L391.89 195.62 L392.04 195.50 L392.19 195.38 L392.34 195.27 L392.48 195.15 L392.63 195.04 L392.78 194.92 L392.93 194.80 L393.08 194.69 L393.23 194.57 L393.38 194.46 L393.52 194.34 L393.67 194.23 L393.82 194.11 L393.97 194.00 L394.12 193.88 L394.27 193.77 L394.42 193.65 L394.56 193.54 L394.71 193.43 L394.86 193.31 L395.01 193.20 L395.16 193.08 L395.31 192.97 L395.46 192.86 L395.60 192.74 L395.75 192.63 L395.90 192.52 L396.05 192.40 L396.20 192.29 L396.35 192.18 L396.50 192.07 L396.64 191.95" stroke="rgb(0,0,255)"/>
</g>
<rect x="57.7" y="9.5" width="337.0" height="208.2" fill="none" stroke="#000" stroke-width="2.5"/>
<g stroke="#000" stroke-width="2">
<path d="M170.00 217.7v-3.5"/>
<path d="M282.20 217.7v-3.5"/>
<path d="M57.7 113.45h4.5"/>
</g>
<g class="t" text-anchor="end" style="filter:grayscale(1)">
<text x="53.9" y="14.9">1</text>
<text x="54.3" y="118.6">0</text>
<text x="53.9" y="223.3">1</text>
<rect x="35.4" y="218.45" width="8.5" height="1.45" fill="#000" stroke="none"/>
</g>
<g class="t" text-anchor="middle" style="filter:grayscale(1)">
<text x="58" y="235.8">0</text>
<text x="169.8" y="235.8">1</text>
<text x="282.0" y="235.8">2</text>
<text x="394.3" y="235.8">3</text>
</g>
<g class="l" style="filter:grayscale(1)" stroke="#000" stroke-width="0.3">
<text x="215.0" y="266.5" font-size="22.5">L</text>
<text x="228.4" y="270.0" font-size="16.5">x</text>
</g>
<g transform="translate(21,132.4) rotate(-90)" style="filter:grayscale(1)" class="l" stroke="#000" stroke-width="0.3">
<text x="0" y="0" font-size="22.5">α</text>
<text x="12.8" y="3.2" font-size="18">k</text>
<text x="19.7" y="5.2" font-size="12.5">x</text>
<text x="26.9" y="3.0" font-size="16.5">,</text>
<text x="30.8" y="2.1" font-size="16">4</text>
</g>
</svg>
</body></html>
